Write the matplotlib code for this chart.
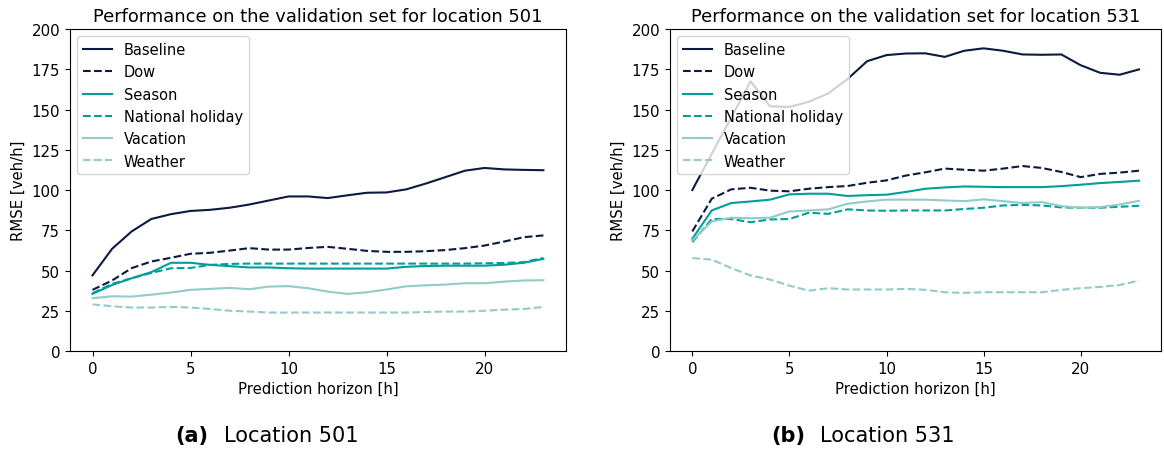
import matplotlib.pyplot as plt
import numpy as np

hours = np.arange(24)
labels = ['Baseline', 'Dow', 'Season', 'National holiday', 'Vacation', 'Weather']

# location 501
baseline_501 = [47, 63.5, 74.3, 82, 85, 87, 87.7, 89, 91, 93.5, 96, 96, 95, 96.7,
                98.3, 98.5, 100.4, 104, 108, 112, 113.7, 112.8, 112.5, 112.3]
dow_501 = [38, 43.8, 51.5, 55.6, 57.9, 60.4, 61, 62.4, 63.9, 63, 63, 64, 64.7, 63.5,
           62.2, 61.6, 61.6, 62, 62.7, 63.9, 65.5, 68, 70.7, 71.8]
season_501 = [35.5, 41, 45.2, 49, 54.8, 54.8, 53.5, 52.7, 51.9, 51.9, 51.4, 51.2, 51.2,
              51.2, 51.2, 51.2, 52.3, 52.8, 53, 53, 53, 53.6, 54.8, 57.2]
holiday_501 = [35.9, 41.7, 45.2, 48.5, 51.4, 51.6, 53.5, 54.1, 54.3, 54.3, 54.3, 54.3,
               54.3, 54.3, 54.3, 54.3, 54.3, 54.3, 54.3, 54.3, 54.5, 54.7, 55.2, 57.8]
vacation_501 = [32.8, 34, 33.8, 35, 36.3, 38, 38.6, 39.2, 38.4, 40, 40.3, 39, 36.9, 35.5,
                36.5, 38.2, 40.2, 40.8, 41.3, 42.1, 42.1, 43.1, 43.8, 44]
weather_501 = [29, 27.8, 27, 27, 27.4, 27, 26.1, 25, 24.5, 23.9, 23.9, 23.9, 23.9, 23.9,
               23.9, 23.9, 23.9, 24.2, 24.5, 24.5, 25, 25.7, 26.1, 27.4]

# location 531
baseline_531 = [100, 122.5, 145, 167.5, 152, 151.6, 154.8, 160, 169, 180, 183.8, 184.8,
                184.9, 182.7, 186.5, 188, 186.5, 184.2, 184, 184.2, 177.5, 172.8, 171.6, 174.9]
dow_531 = [74.3, 94.6, 100.4, 101.4, 99.6, 99.2, 100.8, 101.8, 102.5, 104.5, 106, 109,
           111, 113.3, 112.6, 112, 113.3, 114.9, 113.7, 111.2, 108, 110, 110.8, 112]
season_531 = [69.7, 87.3, 91.9, 92.9, 94, 97.3, 97.7, 97.7, 96.3, 96.8, 97.1, 98.8, 100.8,
              101.6, 102.2, 102, 101.8, 101.8, 101.8, 102.4, 103.3, 104.3, 105, 105.8]
holiday_531 = [67.6, 82, 82, 80, 81.7, 82, 85.9, 85.2, 88, 87.3, 87.1, 87.3, 87.3, 87.3,
               88.2, 89, 90.4, 90.8, 90.4, 89.2, 89, 89, 89.6, 90.2]
vacation_531 = [68.6, 80.5, 82.8, 82.5, 82.8, 86.7, 87.3, 88, 91.5, 92.9, 94, 94, 94, 93.5,
                93.1, 94.2, 93.1, 91.9, 92.5, 90, 89, 89.4, 91, 93.3]
weather_531 = [57.7, 56.8, 51.5, 46.9, 44.4, 40.6, 37.5, 39, 38.2, 38.2, 38.2, 38.6, 38,
               36.5, 36.1, 36.5, 36.5, 36.5, 36.5, 38, 39, 39.8, 41, 43.7]

dark = '#0c1a3f'
teal = '#009e99'
light = '#92cbc7'
colors = [dark, dark, teal, teal, light, light]
styles = ['-', '--', '-', '--', '-', '--']

fig = plt.figure(figsize=(11.64, 4.52), dpi=100)
ax1 = fig.add_axes([0.0601, 0.2212, 0.4261, 0.7124])
ax2 = fig.add_axes([0.5756, 0.2212, 0.4221, 0.7124])

panels = [
    (ax1, '501', [baseline_501, dow_501, season_501, holiday_501, vacation_501, weather_501]),
    (ax2, '531', [baseline_531, dow_531, season_531, holiday_531, vacation_531, weather_531]),
]

for ax, loc, series in panels:
    for vals, lab, c, ls in zip(series, labels, colors, styles):
        ax.plot(hours, vals, color=c, linestyle=ls, linewidth=1.5, label=lab)
    ax.set_ylim(0, 200)
    ax.set_yticks(np.arange(0, 201, 25))
    ax.set_xticks([0, 5, 10, 15, 20])
    ax.tick_params(labelsize=10.8)
    ax.set_title('Performance on the validation set for location ' + loc, fontsize=12.9)
    ax.set_xlabel('Prediction horizon [h]', fontsize=10.7)
    ax.set_ylabel('RMSE [veh/h]', fontsize=10.7)
    ax.legend(loc='upper left', fontsize=10.5)

# subfigure captions
fig.text(0.1503, 0.035, '(a)', fontsize=15, fontweight='bold', ha='left', va='center')
fig.text(0.1924, 0.035, 'Location 501', fontsize=15, ha='left', va='center')
fig.text(0.6624, 0.035, '(b)', fontsize=15, fontweight='bold', ha='left', va='center')
fig.text(0.7045, 0.035, 'Location 531', fontsize=15, ha='left', va='center')

plt.savefig('out.png', dpi=100)
